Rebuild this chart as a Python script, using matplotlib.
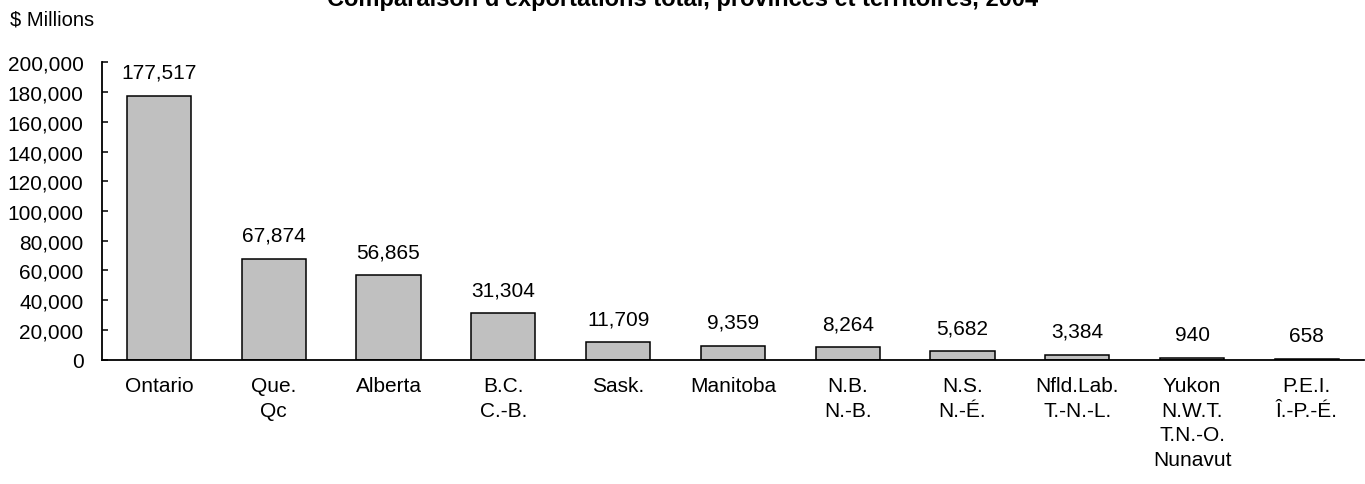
import matplotlib.pyplot as plt
from matplotlib.ticker import FuncFormatter

plt.rcParams['font.family'] = ['Liberation Sans', 'DejaVu Sans']

provinces = ['Ontario', 'Que.\nQc', 'Alberta', 'B.C.\nC.-B.', 'Sask.', 'Manitoba',
             'N.B.\nN.-B.', 'N.S.\nN.-É.', 'Nfld.Lab.\nT.-N.-L.',
             'Yukon\nN.W.T.\nT.N.-O.\nNunavut', 'P.E.I.\nÎ.-P.-É.']
exports = [177517, 67874, 56865, 31304, 11709, 9359, 8264, 5682, 3384, 940, 658]
yticks = list(range(0, 200001, 20000))

fig = plt.figure(figsize=(13.65, 4.85), dpi=100)
ax = fig.add_axes([0.0744, 0.2563, 0.925, 0.6132])

x = range(len(provinces))
bars = ax.bar(x, exports, width=0.56, color='#C0C0C0', edgecolor='black', linewidth=1.1)

for xi, v in zip(x, exports):
    ax.annotate(f'{v:,}', (xi, v), xytext=(0, 10), textcoords='offset points',
                ha='center', va='bottom', fontsize=15)

ax.set_xlim(-0.5, 10.5)
ax.set_ylim(0, 200000)
ax.set_yticks(yticks)
ax.yaxis.set_major_formatter(FuncFormatter(lambda v, p: f'{int(v):,}'))
ax.set_xticks(list(x))
ax.set_xticklabels(provinces, fontsize=15, linespacing=1.36)
ax.tick_params(axis='y', direction='in', length=4, width=1.1, pad=13, labelsize=15)
ax.tick_params(axis='x', length=0, pad=12)

for s in ['top', 'right']:
    ax.spines[s].set_visible(False)
for s in ['left', 'bottom']:
    ax.spines[s].set_linewidth(1.3)

fig.text(0.0073, 0.958, '$ Millions', fontsize=14.5, va='center', ha='left')
fig.text(0.5, 1 - 6 / 485, "Comparaison d'exportations total, provinces et territoires, 2004",
         fontsize=17, fontweight='bold', ha='center', va='baseline')

fig.savefig('out.png', dpi=100)
